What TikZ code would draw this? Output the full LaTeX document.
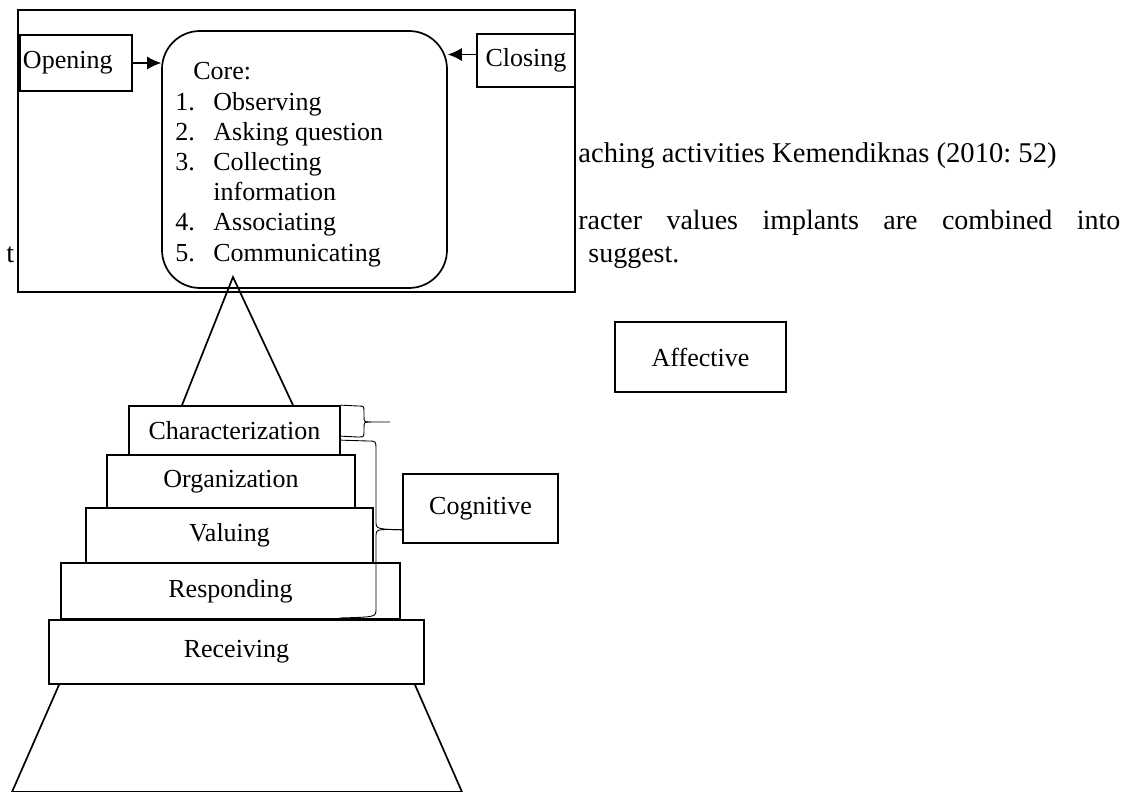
\documentclass[tikz,border=0pt]{standalone}
\usepackage{fontspec}
\setmainfont{Liberation Serif}
\usetikzlibrary{arrows.meta,calc}
\begin{document}
\frenchspacing
\begin{tikzpicture}[x=0.5pt,y=-0.5pt,
  every node/.style={font=\fontsize{13}{15}\selectfont},
  box/.style={draw,line width=0.85pt,inner sep=0pt,fill=white},
  txt/.style={inner sep=0pt,anchor=base west},
  pagetxt/.style={txt,font=\fontsize{14}{16}\selectfont},
  brace/.style={line width=0.45pt},
  edge/.style={line width=0.85pt},
  arr/.style={line width=0.6pt,-{Latex[length=7pt,width=6.5pt]}}]
\useasboundingbox (0,0) rectangle (1126,792);
% page text behind the figure
\node[pagetxt,font=\fontsize{14.3}{16}\selectfont] (l1) at (578,163) {aching activities Kemendiknas (2010: 52)};
\node[pagetxt] (l2) at (578,229) {\makebox[271pt][s]{racter\hfill values\hfill implants\hfill are\hfill combined\hfill into}};
\node[pagetxt] (l3) at (588,263) {suggest.};
\node[pagetxt] (l4) at (6,263) {t};
% lesson frame
\node[box,minimum width=278.5pt,minimum height=141pt] (frame) at (296.5,151) {};
\node[box,minimum width=56pt,minimum height=28pt,text width=53pt,align=left,inner xsep=1.5pt] (open) at (76,63) {Opening};
\node[box,minimum width=49pt,minimum height=26.5pt] (close) at (526,60.5) {Closing};
\node[box,rounded corners=19pt,minimum width=142.5pt,minimum height=128.5pt] (core) at (304.5,159.5) {};
\node[txt] (corehead) at (193,80) {Core:};
\node[txt] (n1) at (175,110.2) {1.};
\node[txt] (i1) at (213,110.2) {Observing};
\node[txt] (n2) at (175,140.4) {2.};
\node[txt] (i2) at (213,140.4) {Asking question};
\node[txt] (n3) at (175,170.6) {3.};
\node[txt] (i3) at (213,170.6) {Collecting};
\node[txt] (i3b) at (213,200.8) {information};
\node[txt] (n4) at (175,231) {4.};
\node[txt] (i4) at (213,231) {Associating};
\node[txt] (n5) at (175,261.2) {5.};
\node[txt] (i5) at (213,261.2) {Communicating};
\draw[arr] (open.east) -- (open.east -| core.west);
\coordinate (closeout) at ($(close.west)+(0,-6)$);
\draw[arr] (closeout) -- (closeout -| core.east);
% pyramid
\node[box,minimum width=105.5pt,minimum height=24.5pt] (char) at (234.5,430.5) {Characterization};
\node[box,minimum width=124pt,minimum height=26.5pt] (org) at (231,481.5) {Organization};
\node[box,minimum width=143.5pt,minimum height=27.5pt] (val) at (229.5,535.5) {Valuing};
\node[box,minimum width=169.5pt,minimum height=28pt] (resp) at (230.5,591) {Responding};
\node[box,minimum width=187.5pt,minimum height=32pt] (recv) at (236.5,652) {Receiving};
% top triangle
\coordinate (apex) at (233,277);
\coordinate (tl) at (char.north -| 182,0);
\coordinate (tr) at (char.north -| 293,0);
\draw[edge,line join=miter] (tl) -- (apex) -- (tr);
% bottom trapezoid
\coordinate (ztl) at (recv.south -| 59,0);
\coordinate (ztr) at (recv.south -| 415,0);
\coordinate (zbl) at (12,792);
\coordinate (zbr) at (462,792);
\draw[edge] (ztl) -- (zbl) -- (zbr) -- (ztr);
% side boxes
\node[box,minimum width=77.5pt,minimum height=34.5pt] (cog) at (480.5,508.5) {Cognitive};
\node[box,minimum width=85.5pt,minimum height=35pt] (aff) at (700.5,357) {Affective};
% braces
\coordinate (afftip) at (390,422);
\coordinate (affbot) at ($(char.north east)+(0,31)$);
\draw[brace] (char.north east) -- (358,406) .. controls (364,406) .. (364,412) -- (364,416) .. controls (364,422) .. (371,422) -- (afftip);
\draw[brace] (371,422) .. controls (364,422) .. (364,428) -- (364,431) .. controls (364,437) .. (358,437) -- (affbot);
\coordinate (cogtip) at ($(cog.south west)+(0,-14)$);
\coordinate (cogtop) at ($(char.north east)+(0,35)$);
\coordinate (cogbot) at (340,618);
\draw[brace] (cogtop) -- (368,441) .. controls (376,441) .. (376,450) -- (376,521) .. controls (376,529) .. (cogtip);
\draw[brace] (cogtip) .. controls (376,529) .. (376,537) -- (376,609) .. controls (376,617) .. (cogbot);
\end{tikzpicture}
\end{document}
